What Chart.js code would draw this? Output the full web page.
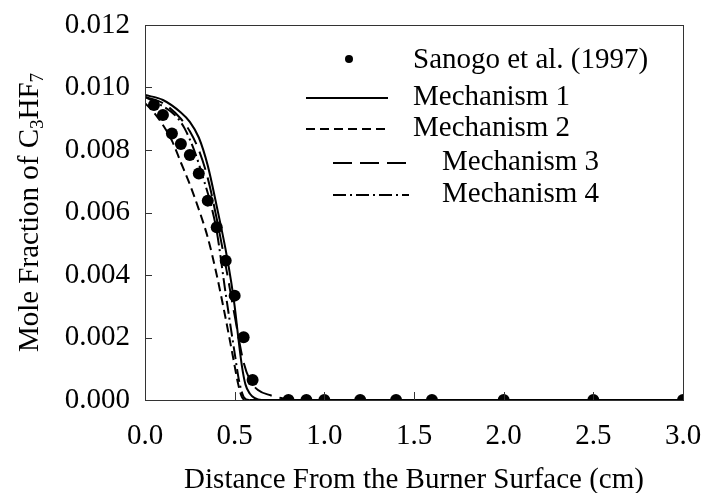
<!DOCTYPE html>
<html>
<head>
<meta charset="utf-8">
<script src="https://cdn.jsdelivr.net/npm/chart.js@4/dist/chart.umd.min.js"></script>
<style>
  html, body { margin: 0; padding: 0; background: #ffffff; }
  #wrap { width: 702px; height: 493px; }
</style>
</head>
<body>
<div id="wrap"><canvas id="c" width="702" height="493"></canvas></div>
<script>
// ---- data ----
const xTicks = [0.0, 0.5, 1.0, 1.5, 2.0, 2.5, 3.0];
const yTicks = [0.000, 0.002, 0.004, 0.006, 0.008, 0.010, 0.012];

const sanogoX = [0.05, 0.10, 0.15, 0.20, 0.25, 0.30, 0.35, 0.40, 0.45, 0.50, 0.55, 0.60, 0.80, 0.90, 1.00, 1.20, 1.40, 1.60, 2.00, 2.50, 3.00];
const sanogoY = [0.00944, 0.00912, 0.00853, 0.00819, 0.00784, 0.00725, 0.00638, 0.00553, 0.00446, 0.00334, 0.00201, 0.00064, 0, 0, 0, 0, 0, 0, 0, 0, 0];

const mech1X = [0, 0.10, 0.20, 0.25, 0.30, 0.35, 0.40, 0.45, 0.48, 0.50, 0.52, 0.54, 0.56, 0.585, 0.61, 0.65, 1.0, 2.0, 3.0];
const mech1Y = [0.00976, 0.0096, 0.0092, 0.0089, 0.0084, 0.0075, 0.0062, 0.0048, 0.0038, 0.0030, 0.0020, 0.0011, 0.0005, 0.0002, 0.00007, 0, 0, 0, 0];

const mech2X = [0, 0.05, 0.10, 0.15, 0.20, 0.25, 0.30, 0.35, 0.40, 0.45, 0.49, 0.52, 0.54, 0.56, 1.0, 2.0, 3.0];
const mech2Y = [0.0095, 0.0092, 0.0088, 0.0083, 0.0076, 0.0069, 0.0061, 0.0052, 0.0040, 0.0026, 0.0014, 0.0005, 0.0001, 0, 0, 0, 0];

const mech3X = [0, 0.10, 0.20, 0.25, 0.30, 0.35, 0.40, 0.45, 0.50, 0.55, 0.585, 0.63, 0.70, 0.77, 0.85, 2.0, 3.0];
const mech3Y = [0.0097, 0.0095, 0.0090, 0.0086, 0.0080, 0.0071, 0.0058, 0.0043, 0.0027, 0.0012, 0.00064, 0.00032, 0.00015, 0.00005, 0, 0, 0];

const mech4X = [0, 0.10, 0.17, 0.22, 0.28, 0.33, 0.37, 0.40, 0.45, 0.50, 0.525, 0.55, 0.58, 1.0, 2.0, 3.0];
const mech4Y = [0.0097, 0.0094, 0.0091, 0.0087, 0.0079, 0.0070, 0.0062, 0.0054, 0.0034, 0.0015, 0.0006, 0.0001, 0, 0, 0, 0];

const seriesNames = ['Sanogo et al. (1997)', 'Mechanism 1', 'Mechanism 2', 'Mechanism 3', 'Mechanism 4'];
const xTitle = 'Distance From the Burner Surface (cm)';

const FONT = '"Liberation Serif", "Times New Roman", serif';
const FS = 29;

function pts(xs, ys) { return xs.map((x, i) => ({ x: x, y: ys[i] })); }

const dashes = {
  m1: [],
  m2: [9, 5],
  m3: [19, 8],
  m4: [13, 4, 2, 4]
};

function lineDs(label, xs, ys, dash) {
  return {
    label: label,
    data: pts(xs, ys),
    showLine: true,
    borderColor: '#000',
    backgroundColor: '#000',
    borderWidth: 2,
    borderDash: dash,
    pointRadius: 0,
    cubicInterpolationMode: 'monotone',
    fill: false
  };
}

const decor = {
  id: 'decor',
  afterDatasetsDraw(chart) {
    const ctx = chart.ctx;
    const a = chart.chartArea;
    const xs = chart.scales.x, ys = chart.scales.y;
    ctx.save();
    // frame
    ctx.strokeStyle = '#333';
    ctx.lineWidth = 1;
    ctx.setLineDash([]);
    ctx.strokeRect(Math.round(a.left) + 0.5, Math.round(a.top) + 0.5, Math.round(a.right - a.left), Math.round(a.bottom - a.top));
    // inward ticks
    ctx.beginPath();
    yTicks.forEach(v => {
      const y = Math.round(ys.getPixelForValue(v)) + 0.5;
      ctx.moveTo(a.left, y); ctx.lineTo(a.left + 7, y);
    });
    xTicks.forEach(v => {
      const x = Math.round(xs.getPixelForValue(v)) + 0.5;
      ctx.moveTo(x, a.bottom); ctx.lineTo(x, a.bottom - 8);
    });
    ctx.stroke();

    // legend
    ctx.fillStyle = '#000';
    ctx.strokeStyle = '#000';
    ctx.font = FS + 'px ' + FONT;
    ctx.textBaseline = 'alphabetic';
    ctx.textAlign = 'left';
    ctx.beginPath();
    ctx.arc(349, 59, 4, 0, Math.PI * 2);
    ctx.fill();
    ctx.fillText(seriesNames[0], 413, 68);
    const rows = [
      { x1: 306, x2: 388, y: 98, tx: 413, ty: 105, d: dashes.m1, n: seriesNames[1] },
      { x1: 306, x2: 388, y: 129, tx: 413, ty: 136, d: dashes.m2, n: seriesNames[2] },
      { x1: 333, x2: 409, y: 163, tx: 442, ty: 170, d: dashes.m3, n: seriesNames[3] },
      { x1: 333, x2: 409, y: 195, tx: 442, ty: 202, d: dashes.m4, n: seriesNames[4] }
    ];
    rows.forEach(r => {
      ctx.lineWidth = 2;
      ctx.setLineDash(r.d);
      ctx.beginPath();
      ctx.moveTo(r.x1, r.y); ctx.lineTo(r.x2, r.y);
      ctx.stroke();
      ctx.setLineDash([]);
      ctx.fillText(r.n, r.tx, r.ty);
    });

    // x title
    ctx.textAlign = 'center';
    ctx.fillText(xTitle, (a.left + a.right) / 2, 488);

    // y title with subscripts
    const parts = [
      { t: 'Mole Fraction of C', s: false },
      { t: '3', s: true },
      { t: 'HF', s: false },
      { t: '7', s: true }
    ];
    const subFS = Math.round(FS * 0.65);
    let total = 0;
    parts.forEach(p => {
      ctx.font = (p.s ? subFS : FS) + 'px ' + FONT;
      p.w = ctx.measureText(p.t).width;
      total += p.w;
    });
    ctx.translate(38, (a.top + a.bottom) / 2);
    ctx.rotate(-Math.PI / 2);
    ctx.textAlign = 'left';
    let cx = -total / 2;
    parts.forEach(p => {
      ctx.font = (p.s ? subFS : FS) + 'px ' + FONT;
      ctx.fillText(p.t, cx, p.s ? 5 : 0);
      cx += p.w;
    });
    ctx.restore();
  }
};

new Chart(document.getElementById('c'), {
  type: 'scatter',
  data: {
    datasets: [
      {
        label: seriesNames[0],
        data: pts(sanogoX, sanogoY),
        showLine: false,
        pointRadius: 6,
        pointBackgroundColor: '#000',
        pointBorderColor: '#000',
        pointBorderWidth: 0
      },
      lineDs(seriesNames[1], mech1X, mech1Y, dashes.m1),
      lineDs(seriesNames[2], mech2X, mech2Y, dashes.m2),
      lineDs(seriesNames[3], mech3X, mech3Y, dashes.m3),
      lineDs(seriesNames[4], mech4X, mech4Y, dashes.m4)
    ]
  },
  options: {
    responsive: false,
    animation: false,
    devicePixelRatio: 1,
    layout: { padding: { left: 0, right: 19, top: 25, bottom: 0 } },
    plugins: {
      legend: { display: false },
      tooltip: { enabled: false },
      title: { display: false }
    },
    scales: {
      x: {
        type: 'linear',
        min: 0, max: 3,
        afterBuildTicks: (s) => { s.ticks = xTicks.map(v => ({ value: v })); },
        afterFit: (s) => { s.height = 93; s.paddingLeft = 0; s.paddingRight = 0; },
        grid: { display: false, drawTicks: false },
        border: { display: false },
        ticks: {
          color: '#000',
          font: { family: FONT, size: FS },
          padding: 19,
          maxRotation: 0,
          autoSkip: false,
          callback: (v) => Number(v).toFixed(1)
        }
      },
      y: {
        type: 'linear',
        min: 0, max: 0.012,
        afterBuildTicks: (s) => { s.ticks = yTicks.map(v => ({ value: v })); },
        afterFit: (s) => { s.width = 145; s.paddingTop = 0; s.paddingBottom = 0; },
        grid: { display: false, drawTicks: false },
        border: { display: false },
        ticks: {
          color: '#000',
          font: { family: FONT, size: FS },
          padding: 15,
          autoSkip: false,
          callback: (v) => Number(v).toFixed(3)
        }
      }
    }
  },
  plugins: [decor]
});
</script>
</body>
</html>
